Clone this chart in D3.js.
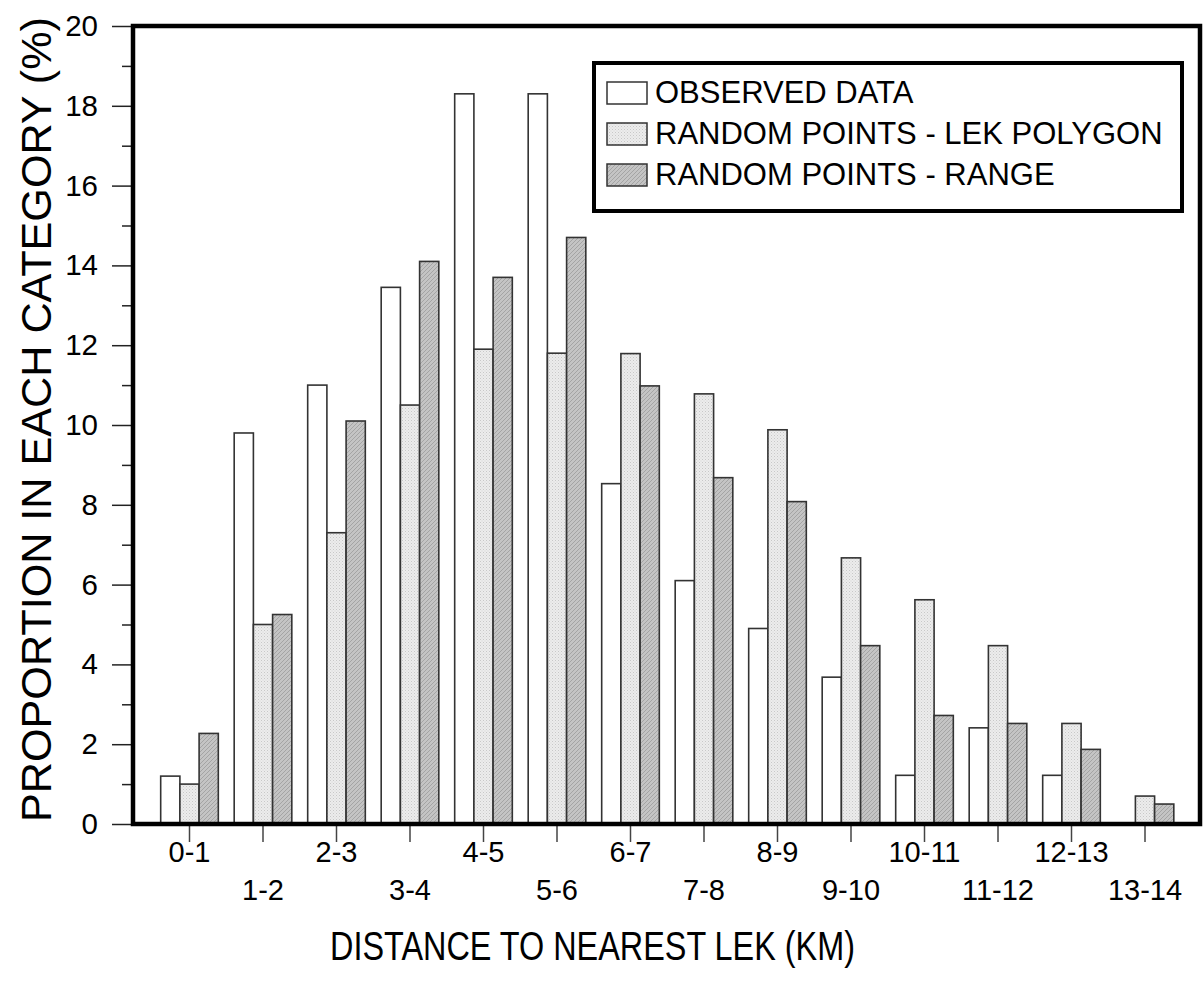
<!DOCTYPE html>
<html><head><meta charset="utf-8">
<script src="https://cdn.jsdelivr.net/npm/d3@7"></script>
<style>body{margin:0;background:#fff}svg{display:block;font-family:"Liberation Sans",Arial,sans-serif}</style>
</head><body>
<svg id="c" width="1204" height="987"></svg>
<script>
const categories = ["0-1","1-2","2-3","3-4","4-5","5-6","6-7","7-8","8-9","9-10","10-11","11-12","12-13","13-14"];
const seriesNames = ["OBSERVED DATA","RANDOM POINTS - LEK POLYGON","RANDOM POINTS - RANGE"];
const observed   = [1.2, 9.8, 11.0, 13.45, 18.3, 18.3, 8.53, 6.1, 4.9, 3.68, 1.22, 2.41, 1.22, 0];
const lekPolygon = [1.0, 5.0, 7.3, 10.5, 11.9, 11.8, 11.79, 10.78, 9.88, 6.67, 5.62, 4.47, 2.52, 0.7];
const range      = [2.27, 5.25, 10.1, 14.1, 13.7, 14.7, 10.98, 8.68, 8.08, 4.47, 2.72, 2.52, 1.87, 0.5];
const yTicks = [0,2,4,6,8,10,12,14,16,18,20];
const yMinorTicks = [1,3,5,7,9,11,13,15,17,19];

const svg = d3.select("#c");
const defs = svg.append("defs");
const p1 = defs.append("pattern").attr("id","dots").attr("width",3).attr("height",3).attr("patternUnits","userSpaceOnUse");
p1.append("rect").attr("width",3).attr("height",3).attr("fill","#ececec");
p1.append("rect").attr("x",0).attr("y",0).attr("width",1).attr("height",1).attr("fill","#c8c8c8");
p1.append("rect").attr("x",1.5).attr("y",1.5).attr("width",1).attr("height",1).attr("fill","#d4d4d4");
const p2 = defs.append("pattern").attr("id","hatch").attr("width",4).attr("height",4).attr("patternUnits","userSpaceOnUse");
p2.append("rect").attr("width",4).attr("height",4).attr("fill","#c4c4c4");
p2.append("path").attr("d","M0,4 L4,0 M-1,1 L1,-1 M3,5 L5,3").attr("stroke","#a4a4a4").attr("stroke-width",1);

const fills = ["#ffffff","url(#dots)","url(#hatch)"];
const data = [observed, lekPolygon, range];

const mLeft = 133, mRight = 1200, mTop = 26, mBottom = 824;
const y = d3.scaleLinear().domain([0,20]).range([mBottom, mTop]);
const x0 = d3.scaleBand().domain(categories).range([152.75, 1181.75]).paddingInner(0.216).paddingOuter(0.108);
const x1 = d3.scaleBand().domain(d3.range(seriesNames.length)).range([0, x0.bandwidth()]);

const g = svg.append("g");
categories.forEach((c, i) => {
  data.forEach((arr, s) => {
    const v = arr[i];
    if (v <= 0) return;
    g.append("rect")
      .attr("x", x0(c) + x1(s))
      .attr("y", y(v))
      .attr("width", x1.bandwidth())
      .attr("height", y(0) - y(v))
      .attr("fill", fills[s])
      .attr("stroke", "#333")
      .attr("stroke-width", 1.6);
  });
});

const yAxis = d3.axisLeft(y).tickValues(yTicks).tickSize(21).tickPadding(14).tickFormat(d3.format("d"));
const ya = svg.append("g").attr("transform", `translate(${mLeft},0)`).call(yAxis);
ya.select(".domain").remove();
ya.selectAll("line").attr("stroke","#222").attr("stroke-width",1.5);
ya.selectAll("text").attr("font-size",29.5).attr("fill","#000").attr("font-family","Liberation Sans, Arial, sans-serif");
const yMinor = d3.axisLeft(y).tickValues(yMinorTicks).tickSize(11).tickFormat("");
const ym = svg.append("g").attr("transform", `translate(${mLeft},0)`).call(yMinor);
ym.select(".domain").remove();
ym.selectAll("line").attr("stroke","#222").attr("stroke-width",1.5);

const xAxis = d3.axisBottom(x0).tickSize(18).tickFormat("");
const xa = svg.append("g").attr("transform", `translate(0,${mBottom})`).call(xAxis);
xa.select(".domain").remove();
xa.selectAll("line").attr("stroke","#444").attr("stroke-width",1.5);
svg.append("g").selectAll("text").data(categories).join("text")
  .attr("x", d => x0(d) + x0.bandwidth()/2)
  .attr("y", (d,i) => i % 2 === 0 ? 862 : 900)
  .attr("text-anchor","middle")
  .attr("font-size",29)
  .text(d => d);

svg.append("rect").attr("x",mLeft).attr("y",mTop).attr("width",mRight-mLeft).attr("height",mBottom-mTop)
  .attr("fill","none").attr("stroke","#000").attr("stroke-width",4.5);

svg.append("text").attr("x",330).attr("y",960).attr("font-size",41)
  .attr("textLength",525).attr("lengthAdjust","spacingAndGlyphs")
  .text("DISTANCE TO NEAREST LEK (KM)");
svg.append("text").attr("transform","translate(51,822) rotate(-90)").attr("font-size",43)
  .attr("textLength",805).attr("lengthAdjust","spacingAndGlyphs")
  .text("PROPORTION IN EACH CATEGORY (%)");

const lg = svg.append("g");
lg.append("rect").attr("x",594).attr("y",63).attr("width",588).attr("height",148)
  .attr("fill","#fff").attr("stroke","#000").attr("stroke-width",4);
seriesNames.forEach((n, s) => {
  const cy = 93 + s*41;
  lg.append("rect").attr("x",607).attr("y",cy-11).attr("width",40).attr("height",22)
    .attr("fill",fills[s]).attr("stroke","#333").attr("stroke-width",1.5);
  lg.append("text").attr("x",655).attr("y",cy+10).attr("font-size",31).text(n);
});
</script>
</body></html>
